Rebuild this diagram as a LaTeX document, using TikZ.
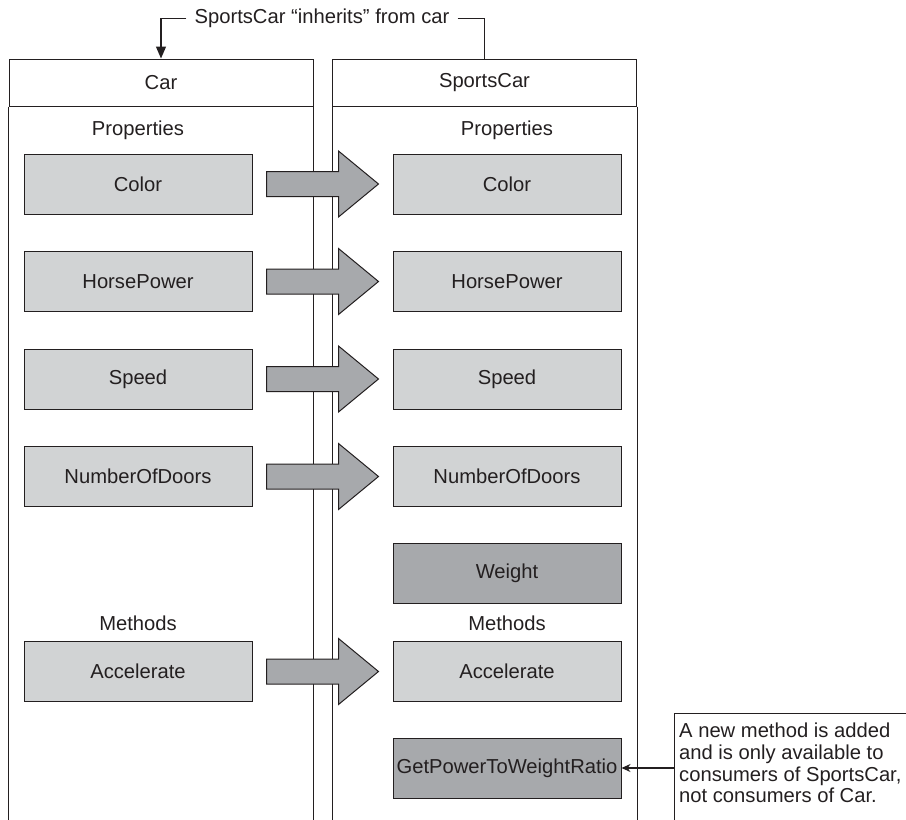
\documentclass[tikz,border=0pt]{standalone}
\usepackage{fontspec}
\setmainfont{Liberation Sans}
\usetikzlibrary{arrows.meta,calc}
\definecolor{ink}{HTML}{231F20}
\definecolor{lightbox}{HTML}{D1D3D4}
\definecolor{darkbox}{HTML}{A7A9AC}
\begin{document}
\begin{tikzpicture}[x=1pt,y=-1pt,
  every node/.style={font=\fontsize{20.2}{21.7}\selectfont, text=ink},
  hdr/.style={draw=ink, line width=1pt, minimum width=304pt, minimum height=47pt, inner sep=0pt},
  lbox/.style={draw=ink, line width=1pt, fill=lightbox, minimum width=228pt, minimum height=60pt, inner sep=0pt},
  dbox/.style={lbox, fill=darkbox},
  blk/.style={draw=ink, line width=1pt, fill=darkbox},
  line/.style={draw=ink, line width=1.3pt}
]
\useasboundingbox (0,0) rectangle (906,820);
\clip (0,0) rectangle (906,820);
% column headers
\node[hdr] (carh) at (161,82.5) {Car};
\node[hdr] (sch) at (484.5,82.5) {SportsCar};
\coordinate (carbl) at (carh.south west |- 0,830);
\coordinate (carbr) at (carh.south east |- 0,830);
\coordinate (scbl) at (sch.south west |- 0,830);
\coordinate (scbr) at (sch.south east |- 0,830);
\draw[ink, line width=1pt] (carh.south west) -- (carbl) (carh.south east) -- (carbr);
\draw[ink, line width=1pt] (sch.south west) -- (scbl) (sch.south east) -- (scbr);
% top label
\node[inner xsep=8pt, inner ysep=0pt] (lbl) at (322,18.5) {SportsCar “inherits” from car};
\draw[line, -{Triangle[length=12pt,width=10pt]}] (lbl.west) -| (carh.north);
\draw[line] (lbl.east) -| (sch.north);
% section labels
\node (lprop) at (138,130) {Properties};
\node (rprop) at (507,130) {Properties};
\node (lmeth) at (138,623) {Methods};
\node (rmeth) at (507,623) {Methods};
% boxes
\node[lbox] (lc) at (138,184) {Color};
\node[lbox] (lh) at (138,281.5) {HorsePower};
\node[lbox] (ls) at (138,379) {Speed};
\node[lbox] (ln) at (138,476.5) {NumberOfDoors};
\node[lbox] (la) at (138,671.5) {Accelerate};
\node[lbox] (rc) at (507,184) {Color};
\node[lbox] (rh) at (507,281.5) {HorsePower};
\node[lbox] (rs) at (507,379) {Speed};
\node[lbox] (rn) at (507,476.5) {NumberOfDoors};
\node[dbox] (rw) at (507,573) {Weight};
\node[lbox] (ra) at (507,671.5) {Accelerate};
\node[dbox] (rg) at (507,768) {GetPowerToWeightRatio};
% block arrows
\foreach \a/\b in {lc/rc, lh/rh, ls/rs, ln/rn, la/ra}{
  \draw[blk] ($(\a.east)+(14,-12.5)$) -- ($(\b.west)+(-54,-12.5)$) -- ($(\b.west)+(-54,-33)$)
    -- ($(\b.west)+(-14,0)$) -- ($(\b.west)+(-54,33)$) -- ($(\b.west)+(-54,12.5)$)
    -- ($(\a.east)+(14,12.5)$) -- cycle;
}
% note (box runs off the right and bottom edges)
\coordinate (notec) at (674,713);
\draw[ink, line width=1pt] ($(notec)+(260,0)$) -- (notec) -- ($(notec)+(0,130)$);
\node[anchor=north west, align=left, inner sep=0pt] (note) at ($(notec)+(5,10)$)
  {A new method is added\\and is only available to\\consumers of SportsCar,\\not consumers of Car.};
\draw[line, -{Stealth[length=9pt,width=8pt]}] (notec |- rg.east) -- (rg.east);
\end{tikzpicture}
\end{document}
